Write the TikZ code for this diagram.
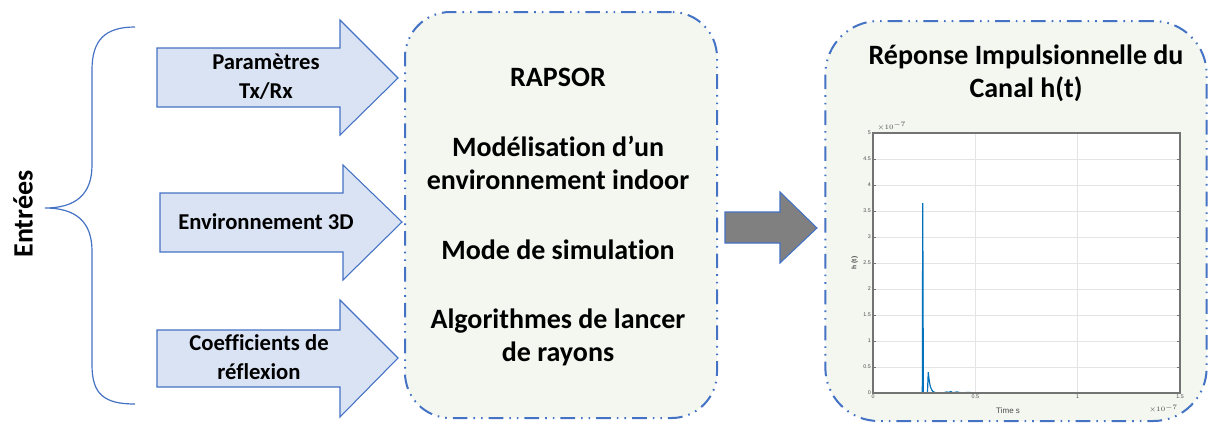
\documentclass[tikz,border=0pt]{standalone}
\usepackage{fontspec}
\setmainfont[Ligatures={NoCommon}]{Carlito}
\newfontfamily\plotfont{Liberation Sans}
\usetikzlibrary{positioning}
\definecolor{edgeblue}{RGB}{68,114,196}
\definecolor{arrowfill}{RGB}{218,227,243}
\definecolor{boxfill}{RGB}{243,247,240}
\definecolor{arrowgray}{RGB}{128,128,128}
\definecolor{gridgray}{RGB}{228,228,228}
\definecolor{axisgray}{RGB}{115,115,115}
\definecolor{signalblue}{RGB}{0,114,189}
\tikzstyle{inarrow} = [draw=edgeblue, fill=arrowfill, line width=0.8pt, line join=miter]
\tikzstyle{outarrow} = [draw=edgeblue, fill=arrowgray, line width=0.8pt]
\tikzstyle{toolbox} = [draw=edgeblue, fill=boxfill, line width=1.5pt, dash pattern=on 11pt off 4.5pt on 1.2pt off 4.5pt on 1.2pt off 4.5pt, rounded corners=34pt]
\tikzstyle{inlabel} = [font=\bfseries\fontsize{17}{22}\selectfont, align=center, text=black]
\tikzstyle{maintext} = [font=\bfseries\fontsize{21}{24.75}\selectfont, align=center, text=black]
\tikzstyle{ticklabel} = [font=\plotfont\fontsize{4}{4.5}\selectfont, text=black!70, inner sep=1.5pt]

\begin{document}
\begin{tikzpicture}[x=0.75pt, y=-0.75pt]
\useasboundingbox (0,0) rectangle (1210,425);

% accolade des entrees
\draw[edgeblue, line width=0.9pt] (135,27) .. controls (105,27) and (92,40) .. (92,70) -- (92,165)
  .. controls (92,195) and (75,208) .. (45,208) .. controls (75,208) and (92,221) .. (92,251)
  -- (92,365) .. controls (92,395) and (105,404) .. (135,404);
\node (entrees) [rotate=90, font=\bfseries\fontsize{21}{24}\selectfont] at (23,214) {Entrées};

% fleches d'entree
\draw[inarrow] (157,48) -- (340,48) -- (340,20) -- (398,78) -- (340,135) -- (340,107) -- (157,107) -- cycle;
\node (txrx) [inlabel] at (266,77) {Paramètres\\Tx/Rx};
\draw[inarrow] (160,193) -- (343,193) -- (343,165) -- (402,222) -- (343,280) -- (343,252) -- (160,252) -- cycle;
\node (env) [inlabel] at (266,222) {Environnement 3D};
\draw[inarrow] (157,330) -- (340,330) -- (340,300) -- (398,358) -- (340,417) -- (340,387) -- (157,387) -- cycle;
\node (coef) [inlabel] at (259,357) {Coefficients de\\réflexion};

% bloc RAPSOR
\node (rapsor) [toolbox, minimum width=234pt, minimum height=304.5pt] at (561,215) {};
\node (title) [maintext] at (558,77) {RAPSOR};
\node (model) [maintext] at (558,163) {Modélisation d’un\\environnement indoor};
\node (mode) [maintext] at (558,250) {Mode de simulation};
\node (algo) [maintext] at (558,337) {Algorithmes de lancer\\de rayons};

% fleche de sortie
\draw[outarrow] (725,212) -- (780,212) -- (780,192) -- (817,228) -- (780,263) -- (780,243) -- (725,243) -- cycle;

% bloc reponse impulsionnelle
\node (cir) [toolbox, rounded corners=40pt, minimum width=286pt, minimum height=300pt] at (1016,221) {};
\node (cirtitle) [maintext] at (1026,73) {Réponse Impulsionnelle du\\Canal h(t)};

\begin{scope}[shift={(873,393)}, x=153.5pt, y=39pt]
  \fill[white] (0,0) rectangle (1.5,5);
  \foreach \v in {0.5,1,1.5,2,2.5,3,3.5,4,4.5}
    \draw[gridgray, line width=0.6pt] (0,\v) -- (1.5,\v);
  \foreach \u in {0.5,1}
    \draw[gridgray, line width=0.6pt] (\u,0) -- (\u,5);
  \foreach \v in {0,0.5,1,1.5,2,2.5,3,3.5,4,4.5,5} {
    \draw[axisgray, line width=0.5pt] (0,\v) -- ++(2pt,0);
    \draw[axisgray, line width=0.5pt] (1.5,\v) -- ++(-2pt,0);
    \node[ticklabel, left] at (0,\v) {\v};
  }
  \foreach \u in {0,0.5,1,1.5}
    \node[ticklabel, below] at (\u,0) {\u};
  \draw[signalblue, line width=0.9pt] (0,0) -- (0.241,0) -- (0.243,3.65) -- (0.246,0) -- (0.266,0) -- (0.27,0.4)
    -- plot[domain=0.27:0.34, samples=25] (\x, {0.4*exp(-(\x-0.27)/0.009)})
    -- (0.36,0.02) -- (0.37,0.01) -- (0.38,0.03) -- (0.39,0.005) -- (0.41,0.02) -- (0.43,0.005)
    -- (0.47,0.01) -- (0.5,0) -- (1.5,0);
  \draw[axisgray, line width=1pt] (0,0) rectangle (1.5,5);
  \node (ylab) [ticklabel, rotate=90, font=\plotfont\bfseries\fontsize{5}{6}\selectfont] at (-0.09,2.5) {h (t)};
  \node (xlab) [ticklabel, font=\plotfont\fontsize{6}{7}\selectfont] at (0.66,-0.33) {Time s};
  \node (yexp) [ticklabel, anchor=south west] at (0.01,5) {$\times10^{-7}$};
  \node (xexp) [ticklabel, anchor=north east] at (1.5,-0.18) {$\times10^{-7}$};
\end{scope}
\end{tikzpicture}
\end{document}
